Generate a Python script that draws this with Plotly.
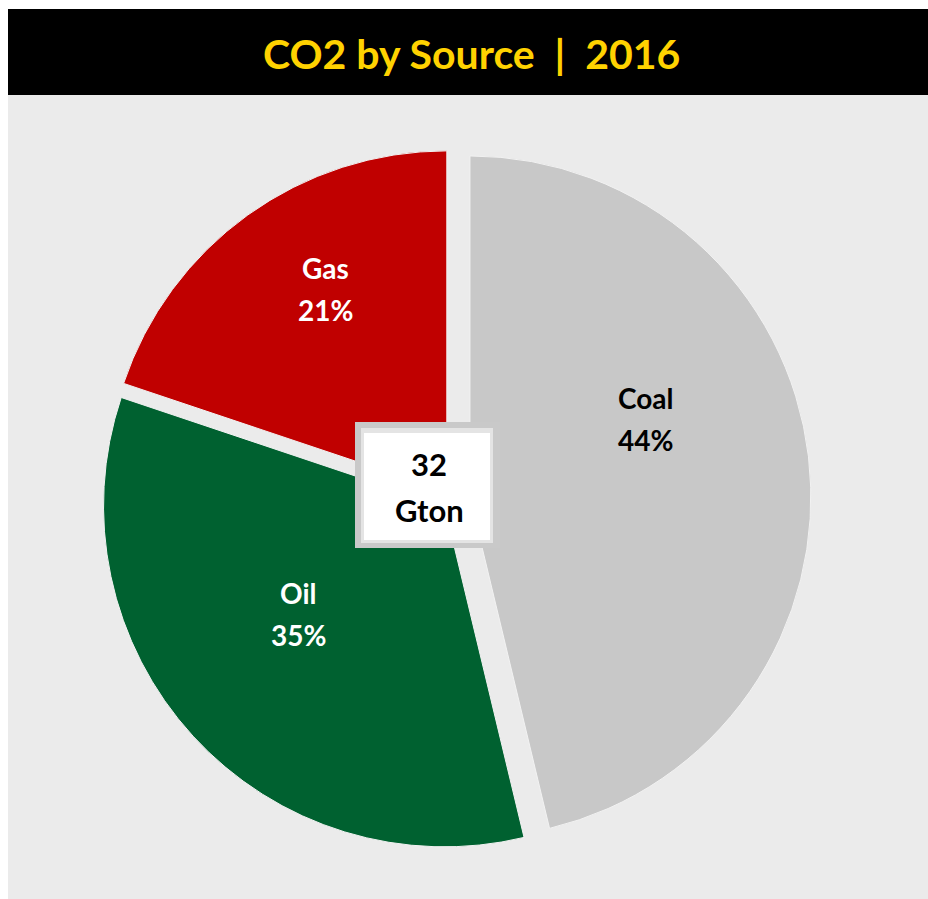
import plotly.graph_objects as go

# Data
labels = ["Coal", "Oil", "Gas"]
values = [46.25, 33.9, 19.85]        # slice sizes as drawn in the picture
shares_text = ["44%", "35%", "21%"]  # shares as printed on the slices
colors = ["#C8C8C8", "#006130", "#C00000"]
text_colors = ["#000000", "#FFFFFF", "#FFFFFF"]
pulls = [0.053, 0.03, 0.026]
title_text = "CO2 by Source\u00a0\u00a0|\u00a0\u00a02016"
center_text = ["32", "Gton"]

# Label placement (pixel centres of the two text lines for each slice)
label_pos = {"Coal": (645, 398, 440), "Oil": (298, 593, 635), "Gas": (325, 268, 310)}

W, H = 928, 899
L, T, S = 93, 140, 718  # plot area left, top, size (px)


def px(x):
    return (x - L) / S


def py(y):
    return 1 - (y - T) / S


fig = go.Figure(go.Pie(
    labels=labels,
    values=values,
    sort=False,
    direction="clockwise",
    rotation=0,
    pull=pulls,
    marker=dict(colors=colors, line=dict(color="#F2F2F2", width=1)),
    textinfo="none",
    hoverinfo="label",
    showlegend=False,
))

shapes = [
    # grey background
    dict(type="rect", xref="paper", yref="paper", x0=px(8), x1=px(940), y0=py(95), y1=py(910),
         fillcolor="#EBEBEB", line=dict(width=0), layer="below"),
    # black title bar
    dict(type="rect", xref="paper", yref="paper", x0=px(8), x1=px(940), y0=py(9), y1=py(95),
         fillcolor="#000000", line=dict(width=0), layer="below"),
    # centre box
    dict(type="rect", xref="paper", yref="paper", x0=px(355), x1=px(500), y0=py(422), y1=py(548),
         fillcolor="#C9C9C9", line=dict(width=0), layer="above"),
    dict(type="rect", xref="paper", yref="paper", x0=px(361), x1=px(493), y0=py(428), y1=py(543),
         fillcolor="#E4E4E4", line=dict(width=0), layer="above"),
    dict(type="rect", xref="paper", yref="paper", x0=px(364), x1=px(490), y0=py(433), y1=py(540),
         fillcolor="#FFFFFF", line=dict(width=0), layer="above"),
]

annotations = [
    dict(text=title_text, xref="paper", yref="paper", x=px(471), y=py(53),
         showarrow=False, xanchor="center", yanchor="middle",
         font=dict(family="Lato", size=41, color="#FFD200", weight="bold")),
]

# slice labels built from the data
for lab, share, tc in zip(labels, shares_text, text_colors):
    x, y1, y2 = label_pos[lab]
    for txt, yy in ((lab, y1), (share, y2)):
        annotations.append(dict(text=txt, xref="paper", yref="paper", x=px(x), y=py(yy),
                                showarrow=False, xanchor="center", yanchor="middle",
                                font=dict(family="Lato", size=28, color=tc, weight="bold")))

# centre total
for txt, (x, y) in zip(center_text, [(429, 464), (429, 510)]):
    annotations.append(dict(text=txt, xref="paper", yref="paper", x=px(x), y=py(y),
                            showarrow=False, xanchor="center", yanchor="middle",
                            font=dict(family="Lato", size=31, color="#000000", weight="bold")))

fig.update_layout(
    width=W, height=H,
    margin=dict(l=L, r=W - L - S, t=T, b=H - T - S, pad=0),
    paper_bgcolor="#FFFFFF",
    plot_bgcolor="#FFFFFF",
    shapes=shapes,
    annotations=annotations,
)

fig.write_html("out.html", config={"displayModeBar": False},
               post_script="document.body.style.margin='0';document.body.style.overflow='hidden';")
